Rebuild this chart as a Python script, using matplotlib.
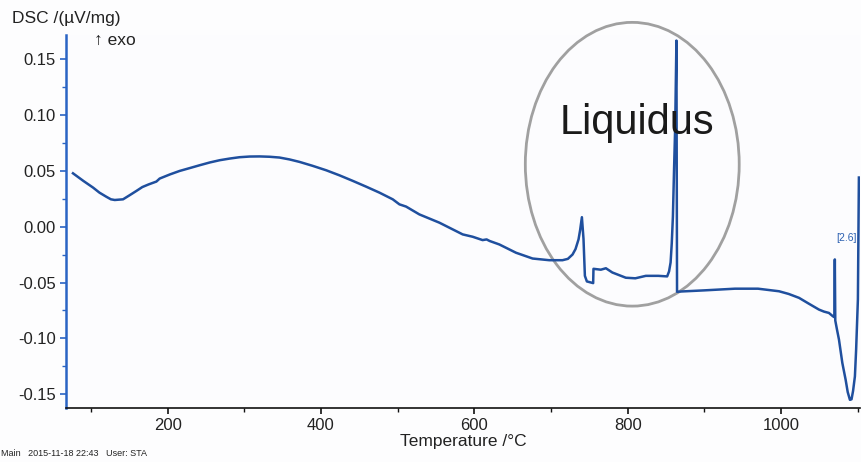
import matplotlib
matplotlib.use("Agg")
import matplotlib.pyplot as plt
from matplotlib.patches import Ellipse
from matplotlib.ticker import MultipleLocator

plt.rcParams['font.family'] = ['Liberation Sans', 'DejaVu Sans']

# ---- data ----
temperature = [76.5, 90, 102.7, 111, 120, 126, 131, 141.8, 150, 159.2, 167, 175, 185.3, 189.6,
               203, 215.6, 230, 241.7, 255, 267.8, 281, 293.8, 307, 319.9, 333, 345.9, 359,
               372, 389, 406.8, 424, 441.5, 459, 476.2, 493.6, 502.3, 511,
               528.3, 554.4, 584.8, 597.8, 610.8, 616, 620, 632.6, 654.3, 676, 697.7, 715,
               722, 728.1, 732, 735.9, 738, 740.3, 742.4, 744.2, 746.8, 755, 755.4, 765,
               771.6, 780, 797.6, 810, 823.7, 840, 851.5, 854, 856, 857.5, 859, 860.5, 862,
               863.6, 864.4, 870, 900, 940, 970, 997.4, 1010, 1023.5, 1036, 1049.5, 1056,
               1062.5, 1067.7, 1069.6, 1070.2, 1070.8, 1073, 1075.6, 1080, 1084.3, 1087,
               1089.9, 1092, 1094, 1096.4, 1098, 1100.3, 1101.6]
dsc = [0.0478, 0.041, 0.035, 0.0305, 0.0268, 0.0245, 0.0239, 0.0245, 0.028, 0.032, 0.0355, 0.0378,
       0.0404, 0.0431, 0.0468, 0.0499, 0.0527, 0.055, 0.0575, 0.0595, 0.061, 0.0622, 0.0628, 0.0629,
       0.0626, 0.0619, 0.0602, 0.058, 0.0545, 0.0505, 0.046, 0.041, 0.0358, 0.0305, 0.0245, 0.020,
       0.018, 0.011, 0.0036, -0.0069, -0.009, -0.012, -0.0114, -0.0128, -0.0159, -0.0233, -0.0285,
       -0.030, -0.030, -0.0288, -0.0249, -0.020, -0.0114, -0.003, 0.0085, -0.011, -0.044, -0.049,
       -0.0505, -0.0377, -0.0385, -0.0372, -0.041, -0.0457, -0.0462, -0.0440, -0.0440, -0.0445,
       -0.040, -0.032, -0.015, 0.009, 0.051, 0.09, 0.1666, -0.0583, -0.0580, -0.0570, -0.0555,
       -0.0555, -0.0578, -0.0602, -0.0637, -0.0688, -0.0742, -0.0760, -0.0772, -0.0802, -0.0810,
       -0.0293, -0.0840, -0.092, -0.101, -0.122, -0.137, -0.148, -0.155, -0.1545, -0.147, -0.134,
       -0.110, -0.065, 0.044]

x_ticks = [200, 400, 600, 800, 1000]
y_ticks = [-0.15, -0.10, -0.05, 0.00, 0.05, 0.10, 0.15]

line_color = '#1f4f9e'
spine_blue = '#2a64c4'
text_color = '#222222'

fig = plt.figure(figsize=(8.61, 4.62), dpi=100)
fig.patch.set_facecolor('#fdfdfe')
ax = fig.add_axes([0.0763, 0.1169, 0.9225, 0.8071])
ax.set_facecolor('#fcfcfe')

ax.plot(temperature, dsc, color=line_color, lw=1.8, solid_joinstyle='round')

ax.set_xlim(67, 1103)
ax.set_ylim(-0.1623, 0.1715)

ax.set_xticks(x_ticks)
ax.set_xticklabels([str(t) for t in x_ticks])
ax.xaxis.set_minor_locator(MultipleLocator(100))
ax.set_yticks(y_ticks)
ax.set_yticklabels([f"{v:.2f}" for v in y_ticks])
ax.yaxis.set_minor_locator(MultipleLocator(0.025))

for s in ['top', 'right']:
    ax.spines[s].set_visible(False)
ax.spines['left'].set_color(spine_blue)
ax.spines['left'].set_linewidth(1.8)
ax.spines['bottom'].set_color('#111111')
ax.spines['bottom'].set_linewidth(1.2)

ax.tick_params(axis='both', which='major', direction='out', length=4, width=1.2,
               labelsize=12, labelcolor=text_color, pad=3)
ax.tick_params(axis='both', which='minor', direction='out', length=3, width=1.0)
ax.tick_params(axis='y', which='both', colors=spine_blue, labelcolor=text_color)
ax.tick_params(axis='x', which='both', colors='#111111', labelcolor=text_color)

ax.set_xlabel('Temperature /°C', fontsize=12.5, color=text_color, labelpad=1)

# annotations
ell = Ellipse((806, 0.0559), width=279, height=0.254, fill=False,
              edgecolor='#a0a0a0', lw=2.0, clip_on=False)
ax.add_patch(ell)
ax.text(812, 0.083, 'Liquidus', fontsize=30, color='#1a1a1a', ha='center', va='baseline')
ax.text(1086, -0.0105, '[2.6]', fontsize=7.5, color='#2a5fb0', ha='center', va='center')

fig.text(12 / 861, 1 - 18 / 462, 'DSC /(µV/mg)', fontsize=12.5, color=text_color,
         ha='left', va='center')
fig.text(94 / 861, 1 - 40 / 462, '↑ exo', fontsize=12.5, color=text_color,
         ha='left', va='center', family=['Liberation Sans', 'DejaVu Sans'])
fig.text(1 / 861, 4 / 462, 'Main   2015-11-18 22:43   User: STA', fontsize=6.5,
         color=text_color, ha='left', va='bottom')

fig.savefig('out.png', dpi=100, facecolor=fig.get_facecolor())
